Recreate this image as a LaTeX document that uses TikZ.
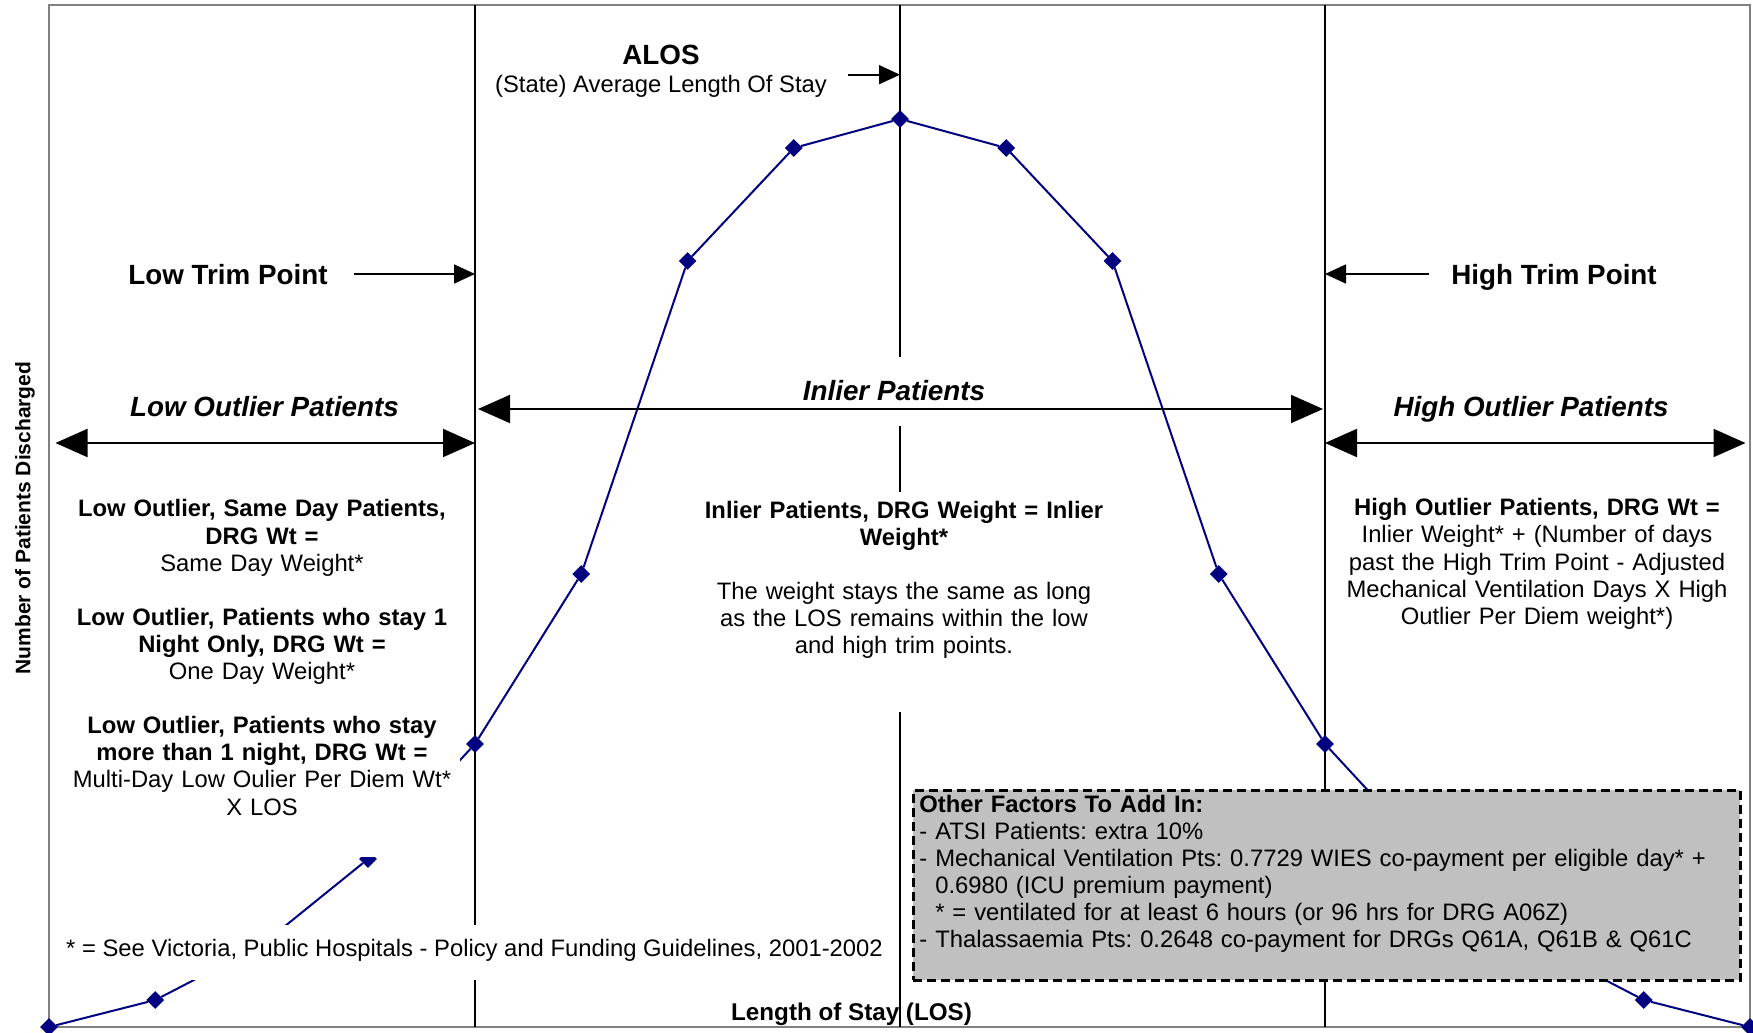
\documentclass[tikz,border=0pt]{standalone}
\usepackage{fontspec}
\setmainfont{Liberation Sans}
\frenchspacing
\usetikzlibrary{arrows.meta}

\definecolor{curveblue}{RGB}{0,0,128}
\definecolor{boxgrey}{RGB}{192,192,192}
\definecolor{framegrey}{RGB}{128,128,128}

\begin{document}
\begin{tikzpicture}[x=1pt, y=-1pt,
  trimlabel/.style={font=\fontsize{27.8pt}{32pt}\selectfont\bfseries, anchor=base, inner sep=2pt},
  zonelabel/.style={trimlabel, font=\fontsize{27.8pt}{32pt}\selectfont\bfseries\itshape},
  textblock/.style={font=\fontsize{23.8pt}{27.1pt}\selectfont, align=center, anchor=base, inner xsep=8pt, inner ysep=4pt},
  whitebg/.style={fill=white},
  trimline/.style={line width=2.3pt},
  stayline/.style={curveblue, line width=2pt},
  stopmark/.style={fill=curveblue, rotate=45, minimum size=12.5pt, inner sep=0pt},
  ptr/.style={line width=1.7pt, -{Triangle[length=21pt, width=19pt]}},
  zonearrow/.style={line width=2pt, {Triangle[length=32pt, width=28pt]}-{Triangle[length=32pt, width=28pt]}},
  factorbox/.style={draw, fill=boxgrey, line width=2.8pt, dash pattern=on 9pt off 5pt, anchor=north west, align=left,
    inner xsep=6.3pt, inner ysep=0pt, font=\fontsize{23.8pt}{26.9pt}\selectfont}
]
  \useasboundingbox (0,0) rectangle (1753,1033);
  \draw[framegrey, line width=2pt] (49,5) rectangle (1750,1027);

  \coordinate (ltp top) at (475,5);
  \coordinate (ltp bot) at (475,1027);
  \coordinate (alos top) at (900,5);
  \coordinate (alos bot) at (900,1027);
  \coordinate (htp top) at (1325,5);
  \coordinate (htp bot) at (1325,1027);
  \draw[trimline] (ltp top) -- (ltp bot);
  \draw[trimline] (alos top) -- (alos bot);
  \draw[trimline] (htp top) -- (htp bot);

  \foreach \px/\py [count=\k] in {49/1027, 155.3/1000, 261.6/945, 368/859, 475/744, 581.3/574,
      687.6/261, 793.8/148, 900/119, 1006.2/148, 1112.4/261, 1218.7/574, 1325/744,
      1431.3/859, 1537.6/945, 1643.8/1000, 1750/1027}
    \node[stopmark] (day\k) at (\px,\py) {};
  \foreach \k [remember=\k as \j (initially 1)] in {2,...,17}
    \draw[stayline] (day\j) -- (day\k);

  \node[rotate=90, font=\fontsize{21pt}{24pt}\selectfont\bfseries] (yaxis) at (25,518) {Number of Patients Discharged};
  \node[trimlabel] (alos) at (661,64) {ALOS};
  \node[textblock] (alosdesc) at (661,92.5) {(State) Average Length Of Stay};
  \node[trimlabel] (lowtrim) at (228,284) {Low Trim Point};
  \node[trimlabel] (hightrim) at (1554,284) {High Trim Point};
  \node[zonelabel] (lowzone) at (264.5,416.5) {Low Outlier Patients};
  \node[zonelabel, whitebg, text height=40.5pt, text depth=22.5pt, inner ysep=3pt] (inlierzone) at (894,400.5) {Inlier Patients};
  \node[zonelabel] (highzone) at (1531,416.5) {High Outlier Patients};

  \node[textblock, whitebg, text width=380pt, text depth=336pt] (lowblock) at (262,516.9)
    {\textbf{Low Outlier, Same Day Patients,}\\ \textbf{DRG Wt =}\\ Same Day Weight*\\[27.1pt]
     \textbf{Low Outlier, Patients who stay 1}\\ \textbf{Night Only, DRG Wt =}\\ One Day Weight*\\[27.1pt]
     \textbf{Low Outlier, Patients who stay}\\ \textbf{more than 1 night, DRG Wt =}\\ Multi-Day Low Oulier Per Diem Wt*\\ X LOS};
  \node[textblock, whitebg, text width=410pt, text height=22pt, text depth=190pt] (inlierblock) at (904,518)
    {\textbf{Inlier Patients, DRG Weight = Inlier}\\ \textbf{Weight*}\\[27.1pt]
     The weight stays the same as long\\ as the LOS remains within the low\\ and high trim points.};
  \node[textblock, text width=390pt] (highblock) at (1537,515.8)
    {\textbf{High Outlier Patients, DRG Wt =}\\ Inlier Weight* + (Number of days\\ past the High Trim Point - Adjusted\\
     Mechanical Ventilation Days X High\\ Outlier Per Diem weight*)};
  \node[textblock, whitebg, text height=27.5pt, text depth=19.5pt] (footnote) at (474.5,956.5)
    {* = See Victoria, Public Hospitals - Policy and Funding Guidelines, 2001-2002};
  \node[trimlabel, font=\fontsize{24.2pt}{28pt}\selectfont\bfseries] (losaxis) at (851.5,1020.6) {Length of Stay (LOS)};

  \node[factorbox, text width=814.7pt, text height=22.2pt, text depth=167.8pt] (factors) at (911.7,789)
    {\textbf{Other Factors To Add In:}\\ - ATSI Patients: extra 10\%\\
     - Mechanical Ventilation Pts: 0.7729 WIES co-payment per eligible day* +\\
     \phantom{- }0.6980 (ICU premium payment)\\
     \phantom{- }* = ventilated for at least 6 hours (or 96 hrs for DRG A06Z)\\
     - Thalassaemia Pts: 0.2648 co-payment for DRGs Q61A, Q61B \& Q61C};

  \coordinate (ltp tail) at (354,274);
  \coordinate (ltp arrow) at (475,274);
  \coordinate (htp tail) at (1429,274);
  \coordinate (htp arrow) at (1325,274);
  \coordinate (alos tail) at (848,74.7);
  \coordinate (alos arrow) at (900,74.7);
  \path[ptr]
    (ltp tail) edge (ltp arrow)
    (htp tail) edge (htp arrow)
    (alos tail) edge (alos arrow);

  \coordinate (low left) at (55.5,443);
  \coordinate (ltp zone) at (475,443);
  \coordinate (inlier left) at (478,409);
  \coordinate (inlier right) at (1323,409);
  \coordinate (htp zone) at (1325,443);
  \coordinate (high right) at (1745.5,443);
  \path[zonearrow]
    (low left) edge (ltp zone)
    (inlier left) edge (inlier right)
    (htp zone) edge (high right);
\end{tikzpicture}
\end{document}
